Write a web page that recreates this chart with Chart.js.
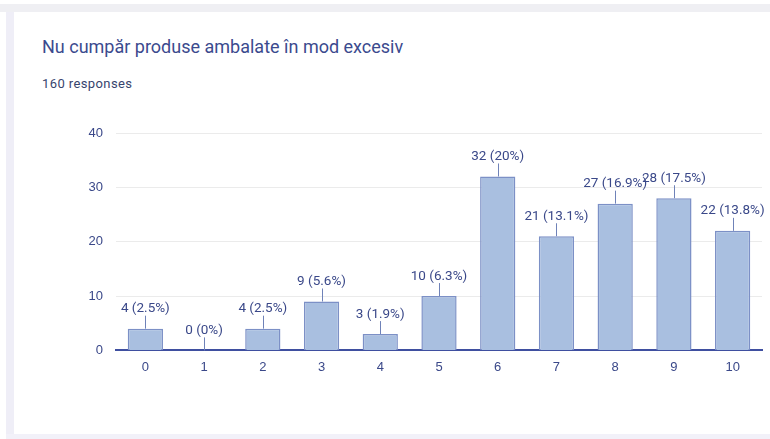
<!DOCTYPE html>
<html>
<head>
<meta charset="utf-8">
<script src="https://cdn.jsdelivr.net/npm/chart.js@4/dist/chart.umd.min.js"></script>
<style>
  html, body { margin: 0; padding: 0; }
  body { width: 770px; height: 439px; background: #fff; position: relative; overflow: hidden; font-family: Roboto, "Noto Sans", sans-serif; }
  .topbar { position: absolute; left: 0; top: 4px; width: 770px; height: 8px; background: #efeff3; }
  .leftbar { position: absolute; left: 6px; top: 12px; width: 8px; height: 427px; background: #efeef7; }
  .bottombar { position: absolute; left: 6px; top: 434px; width: 764px; height: 5px; background: #f2f1f9; }
  .title { position: absolute; left: 42px; top: 36px; font-size: 18px; color: #3b4a8e; }
  .sub { position: absolute; left: 42px; top: 76px; font-size: 13px; letter-spacing: 0.4px; color: #37446e; }
  .wrap { position: absolute; left: 14px; top: 100px; width: 756px; height: 334px; }
</style>
</head>
<body>
<div class="topbar"></div>
<div class="leftbar"></div>
<div class="bottombar"></div>
<div class="title">Nu cumpăr produse ambalate în mod excesiv</div>
<div class="sub">160 responses</div>
<div class="wrap"><canvas id="myChart"></canvas></div>
<script>
const categories = ['0', '1', '2', '3', '4', '5', '6', '7', '8', '9', '10'];
const counts = [4, 0, 4, 9, 3, 10, 32, 21, 27, 28, 22];
const percents = ['2.5%', '0%', '2.5%', '5.6%', '1.9%', '6.3%', '20%', '13.1%', '16.9%', '17.5%', '13.8%'];
const yTicks = [0, 10, 20, 30, 40];

// labels with a short leader line above each bar
const barLabels = {
    id: 'barLabels',
    afterDatasetsDraw(chart) {
        const c = chart.ctx;
        const meta = chart.getDatasetMeta(0);
        c.save();
        c.font = '13.5px Roboto, "Noto Sans", sans-serif';
        c.fillStyle = '#3a4889';
        c.strokeStyle = '#6f82b8';
        c.lineWidth = 1;
        c.textAlign = 'center';
        c.textBaseline = 'bottom';
        meta.data.forEach((bar, i) => {
            const x = Math.round(bar.x) + 0.5;
            c.beginPath();
            c.moveTo(x, bar.y);
            c.lineTo(x, bar.y - 13);
            c.stroke();
            c.fillText(counts[i] + ' (' + percents[i] + ')', bar.x, bar.y - 13);
        });
        c.restore();
    }
};

new Chart(document.getElementById('myChart').getContext('2d'), {
    type: 'bar',
    data: {
        labels: categories,
        datasets: [{
            data: counts,
            backgroundColor: 'rgb(169, 191, 224)',
            borderColor: 'rgb(124, 144, 198)',
            borderWidth: 1.5,
            categoryPercentage: 1,
            barPercentage: 0.6
        }]
    },
    options: {
        responsive: true,
        maintainAspectRatio: false,
        animation: false,
        layout: { padding: { left: 0, right: 8, top: 33, bottom: 58 } },
        plugins: {
            legend: { display: false },
            tooltip: { enabled: false }
        },
        scales: {
            x: {
                grid: { display: false },
                border: { color: '#3f4fa0', width: 2 },
                ticks: { color: '#3a4889', font: { size: 13 }, padding: 1 }
            },
            y: {
                min: 0,
                max: 40,
                afterBuildTicks: (s) => { s.ticks = yTicks.map(v => ({ value: v })); },
                afterFit: (s) => { s.width = 102; },
                border: { display: false },
                grid: {
                    color: (ctx) => ctx.tick && ctx.tick.value === 0 ? 'rgba(0,0,0,0)' : '#ebebeb',
                    drawTicks: false
                },
                ticks: { color: '#3a4889', font: { size: 13 }, padding: 13 }
            }
        }
    },
    plugins: [barLabels]
});
</script>
</body>
</html>
